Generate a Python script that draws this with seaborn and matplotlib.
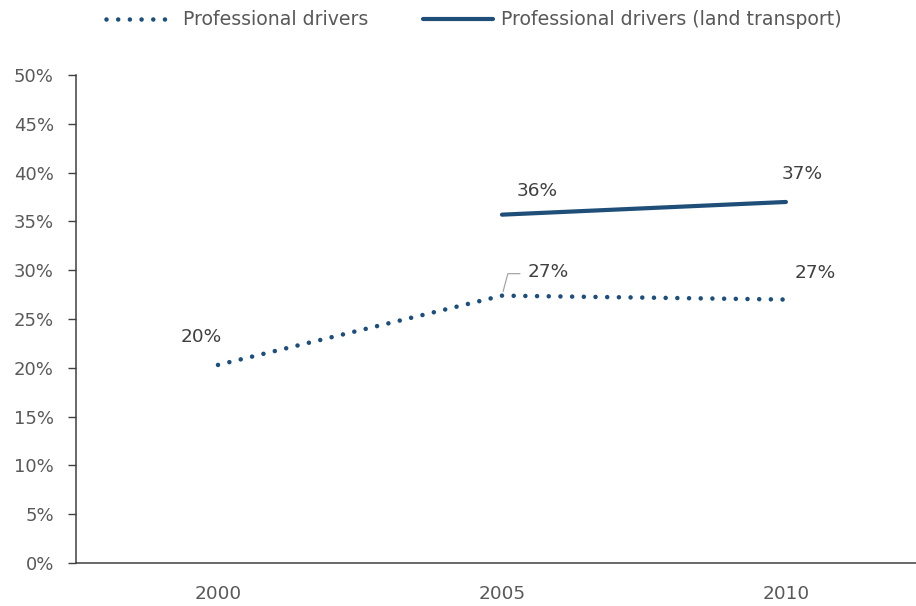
import matplotlib
matplotlib.use("Agg")
import matplotlib.pyplot as plt
from matplotlib.lines import Line2D
from matplotlib.ticker import PercentFormatter, FixedLocator
import seaborn as sns
import pandas as pd

# Share of professional drivers by survey year
years = ["2000", "2005", "2010"]
drivers_years = ["2000", "2005", "2010"]
drivers_share = [0.203, 0.274, 0.270]
land_years = ["2005", "2010"]
land_share = [0.357, 0.370]

series_names = ["Professional drivers", "Professional drivers (land transport)"]

# Label placement (pixel offsets from each point)
drivers_label_offsets = [(-17, 28), (46, 24), (29, 27)]
land_label_offsets = [(35, 24), (16, 28)]

LINE_COLOR = "#1f4e79"
TEXT_COLOR = "#595959"
AXIS_COLOR = "#404040"

sns.set_theme(style="white")
plt.rcParams["font.family"] = ["DejaVu Sans"]

pos = {y: i for i, y in enumerate(years)}
df_drivers = pd.DataFrame({"x": [pos[y] for y in drivers_years], "share": drivers_share})
df_land = pd.DataFrame({"x": [pos[y] for y in land_years], "share": land_share})

fig = plt.figure(figsize=(9.16, 6.06), dpi=100)
ax = fig.add_axes([0.083, 0.071, 0.930, 0.805])

DOT_LW = 3.3
dot_style = (0, (0.001, 2.55))
sns.lineplot(data=df_drivers, x="x", y="share", ax=ax, color=LINE_COLOR,
             linewidth=DOT_LW, linestyle=dot_style, dash_capstyle="round",
             estimator=None, sort=False)
sns.lineplot(data=df_land, x="x", y="share", ax=ax, color=LINE_COLOR,
             linewidth=3.0, solid_capstyle="round", estimator=None, sort=False)

ax.set_xlim(-0.5, 2.5)
ax.set_ylim(0, 0.5)
ax.yaxis.set_major_locator(FixedLocator([i * 0.05 for i in range(11)]))
ax.yaxis.set_major_formatter(PercentFormatter(1.0, decimals=0))
ax.set_xticks(range(len(years)))
ax.set_xticklabels(years)
ax.set_xlabel("")
ax.set_ylabel("")
ax.grid(False)

for side in ("top", "right"):
    ax.spines[side].set_visible(False)
for side in ("left", "bottom"):
    ax.spines[side].set_color(AXIS_COLOR)
    ax.spines[side].set_linewidth(1.1)

ax.tick_params(axis="y", which="major", left=True, length=6, width=1.0,
               color=AXIS_COLOR, pad=10, labelsize=13, labelcolor=TEXT_COLOR)
ax.tick_params(axis="x", which="major", bottom=False, length=0, pad=16,
               labelsize=13.3, labelcolor=TEXT_COLOR)

# Data labels
def fmt(v):
    return f"{round(v * 100):d}%"

for xv, v, off in zip(df_drivers["x"], drivers_share, drivers_label_offsets):
    ax.annotate(fmt(v), xy=(xv, v), xytext=off, textcoords="offset pixels",
                ha="center", va="center", fontsize=13.3, color="#404040")
for xv, v, off in zip(df_land["x"], land_share, land_label_offsets):
    ax.annotate(fmt(v), xy=(xv, v), xytext=off, textcoords="offset pixels",
                ha="center", va="center", fontsize=13.3, color="#404040")

# Leader line for the 2005 label of the dotted series
ax.annotate("", xy=(pos["2005"], drivers_share[1]), xytext=(18, 22),
            textcoords="offset pixels",
            arrowprops=dict(arrowstyle="-", color="#a6a6a6", lw=0.9,
                            shrinkA=0, shrinkB=3,
                            connectionstyle="angle,angleA=0,angleB=75,rad=0"))

# Legend across the top
handles = [
    Line2D([], [], color=LINE_COLOR, linewidth=DOT_LW, linestyle=dot_style,
           dash_capstyle="round"),
    Line2D([], [], color=LINE_COLOR, linewidth=3.0, solid_capstyle="round"),
]
fig.legend(handles, series_names, loc="center", bbox_to_anchor=(0.517, 0.967),
           ncol=2, frameon=False, fontsize=13.6, labelcolor=TEXT_COLOR,
           handlelength=3.7, handletextpad=0.4, columnspacing=2.9)

fig.savefig("out.png", dpi=100)
